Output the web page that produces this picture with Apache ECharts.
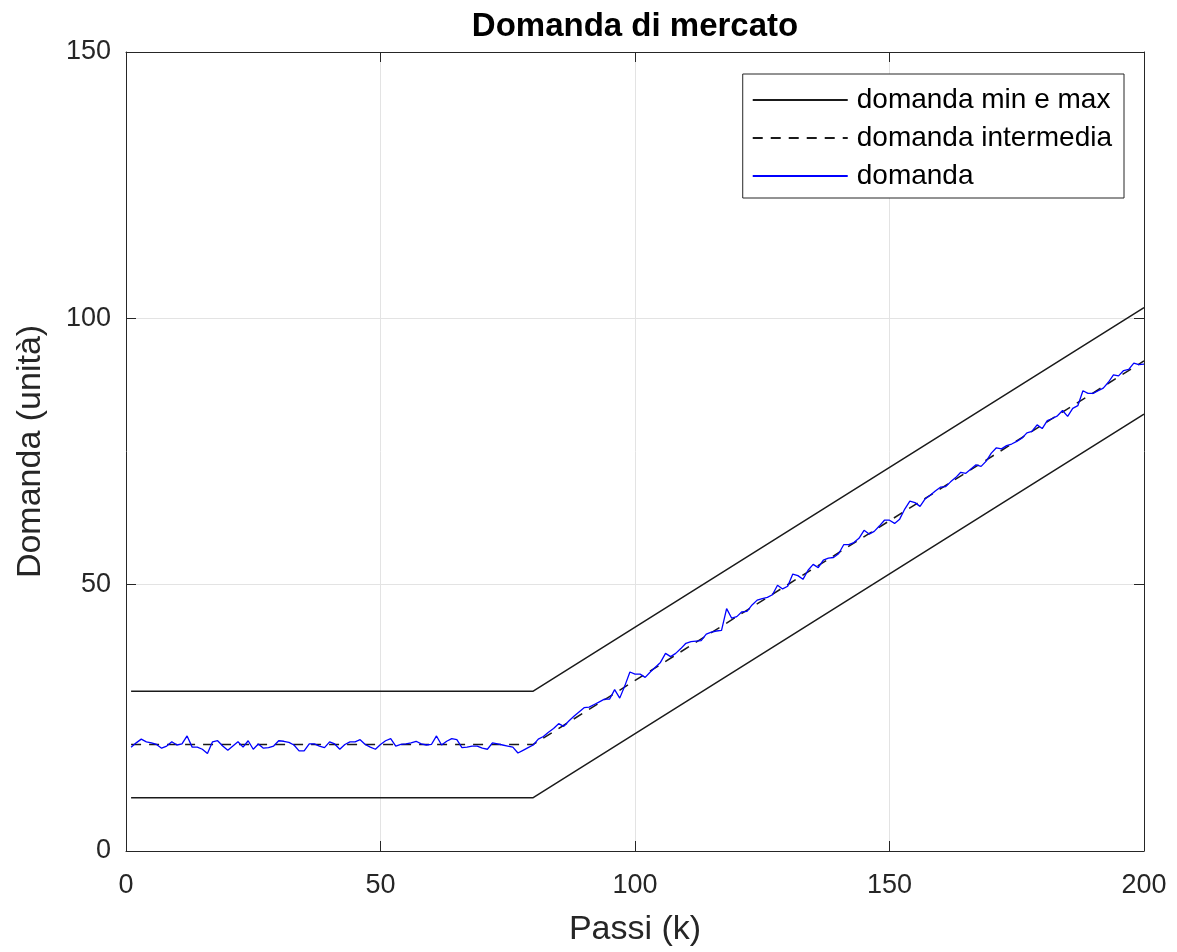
<!DOCTYPE html>
<html>
<head>
<meta charset="utf-8">
<script src="https://cdn.jsdelivr.net/npm/echarts@6/dist/echarts.min.js"></script>
<style>html,body{margin:0;padding:0;background:#fff}#c{width:1177px;height:952px}</style>
</head>
<body>
<div id="c"></div>
<script>
const title = 'Domanda di mercato';
const xName = 'Passi (k)';
const yName = 'Domanda (unità)';
const legendNames = ['domanda min e max', 'domanda intermedia', 'domanda'];
const xTicks = [0, 50, 100, 150, 200];
const yTicks = [0, 50, 100, 150];

// breakpoints of the reference lines [k, value]
const domandaMax = [[1, 30], [80, 30], [200, 102]];
const domandaMin = [[1, 10], [80, 10], [200, 82]];
const domandaIntermedia = [[1, 20], [80, 20], [200, 92]];

// demand, k = 1..200
const domanda = [
 19.5,20.3,21.0,20.5,20.3,20.0,19.3,19.7,20.5,19.9,
 20.1,21.6,19.5,19.5,19.1,18.3,20.5,20.7,19.7,18.9,
 19.7,20.5,19.5,20.7,19.1,20.1,19.3,19.4,19.7,20.7,
 20.6,20.4,19.9,18.8,18.8,20.1,20.1,19.7,19.4,20.5,
 20.1,19.1,20.0,20.5,20.5,20.9,20.0,19.5,19.1,20.0,
 20.7,21.1,19.7,20.0,20.1,20.3,20.6,20.1,19.9,20.0,
 21.6,19.9,20.6,21.1,20.9,19.4,19.5,19.7,19.7,19.3,
 19.1,20.3,20.1,19.9,19.7,19.5,18.4,18.9,19.4,19.9,
 21.0,21.5,22.3,23.0,23.9,23.4,24.4,25.3,26.1,26.9,
 27.0,27.5,28.0,28.5,28.5,30.3,28.7,31.0,33.6,33.2,
 33.2,32.6,33.6,34.5,35.4,37.1,36.5,37.1,38.0,39.0,
 39.3,39.4,39.5,40.7,41.1,41.3,41.4,45.5,43.7,44.0,
 44.9,45.0,46.2,47.1,47.4,47.6,48.1,49.9,49.2,49.7,
 52.0,51.7,51.0,52.7,53.8,53.2,54.6,55.0,55.1,55.8,
 57.5,57.5,57.9,58.7,60.2,59.5,60.0,61.0,62.1,62.1,
 61.5,62.3,64.2,65.7,65.4,64.7,66.1,66.8,67.6,68.3,
 68.4,69.3,70.1,71.1,70.9,71.7,72.5,72.2,73.2,74.7,
 75.7,75.5,76.1,76.4,76.9,77.5,78.5,78.8,80.0,79.3,
 80.8,81.2,81.7,82.7,81.6,83.1,83.6,86.4,85.9,85.9,
 86.4,86.9,88.0,89.4,89.2,90.2,90.4,91.6,91.3,91.4
];

const FONT = "'Liberation Sans', Arial, Helvetica, sans-serif";
const TXT = '#262626';
const chart = echarts.init(document.getElementById('c'), null, {renderer: 'canvas'});

const axisCommon = {
  type: 'value',
  axisLine: {show: true, onZero: false, lineStyle: {color: TXT, width: 1}},
  axisTick: {show: true, inside: true, length: 10, lineStyle: {color: TXT, width: 1}},
};

chart.setOption({
  animation: false,
  backgroundColor: '#fff',
  title: {
    text: title, left: 635, top: 10, textAlign: 'center', padding: 0,
    textStyle: {fontFamily: FONT, fontSize: 33, fontWeight: 'bold', color: '#000'}
  },
  grid: {left: 126, right: 33, top: 52, bottom: 100, containLabel: false},
  legend: {
    data: legendNames,
    orient: 'vertical',
    right: 53, top: 74,
    padding: [12, 12, 8, 9],
    itemWidth: 95, itemHeight: 14, itemGap: 10,
    itemStyle: {opacity: 0},
    backgroundColor: '#fff',
    borderColor: TXT, borderWidth: 1, borderRadius: 0,
    textStyle: {fontFamily: FONT, fontSize: 28, color: '#000', padding: [0, 0, 0, 4]},
    selectedMode: false
  },
  xAxis: [
    Object.assign({}, axisCommon, {
      min: xTicks[0], max: xTicks[xTicks.length - 1], interval: 50,
      name: xName, nameLocation: 'middle', nameGap: 62,
      nameTextStyle: {fontFamily: FONT, fontSize: 34, color: TXT},
      axisLabel: {fontFamily: FONT, fontSize: 27, color: TXT, margin: 21},
      splitLine: {show: true, lineStyle: {color: '#e3e3e3', width: 1}}
    }),
    Object.assign({}, axisCommon, {
      position: 'top', min: xTicks[0], max: xTicks[xTicks.length - 1], interval: 50,
      axisLabel: {show: false}, splitLine: {show: false}
    })
  ],
  yAxis: [
    Object.assign({}, axisCommon, {
      min: yTicks[0], max: yTicks[yTicks.length - 1], interval: 50,
      name: yName, nameLocation: 'middle', nameGap: 78, nameRotate: 90,
      nameTextStyle: {fontFamily: FONT, fontSize: 34, color: TXT},
      axisLabel: {fontFamily: FONT, fontSize: 27, color: TXT, margin: 15},
      splitLine: {show: true, lineStyle: {color: '#e3e3e3', width: 1}}
    }),
    Object.assign({}, axisCommon, {
      position: 'right', min: yTicks[0], max: yTicks[yTicks.length - 1], interval: 50,
      axisLabel: {show: false}, splitLine: {show: false}
    })
  ],
  series: [
    {name: legendNames[0], type: 'line', data: domandaMax, symbol: 'none',
     lineStyle: {color: '#1a1a1a', width: 1.5}, itemStyle: {color: '#1a1a1a'}, z: 2},
    {name: legendNames[0], type: 'line', data: domandaMin, symbol: 'none',
     lineStyle: {color: '#1a1a1a', width: 1.5}, itemStyle: {color: '#1a1a1a'}, z: 2},
    {name: legendNames[1], type: 'line', data: domandaIntermedia, symbol: 'none',
     lineStyle: {color: '#1a1a1a', width: 1.5, type: [10, 8]}, itemStyle: {color: '#1a1a1a'}, z: 3},
    {name: legendNames[2], type: 'line', data: domanda.map((v, i) => [i + 1, v]), symbol: 'none',
     lineStyle: {color: '#0000ff', width: 1.3}, itemStyle: {color: '#0000ff'}, z: 4}
  ]
});
</script>
</body>
</html>
